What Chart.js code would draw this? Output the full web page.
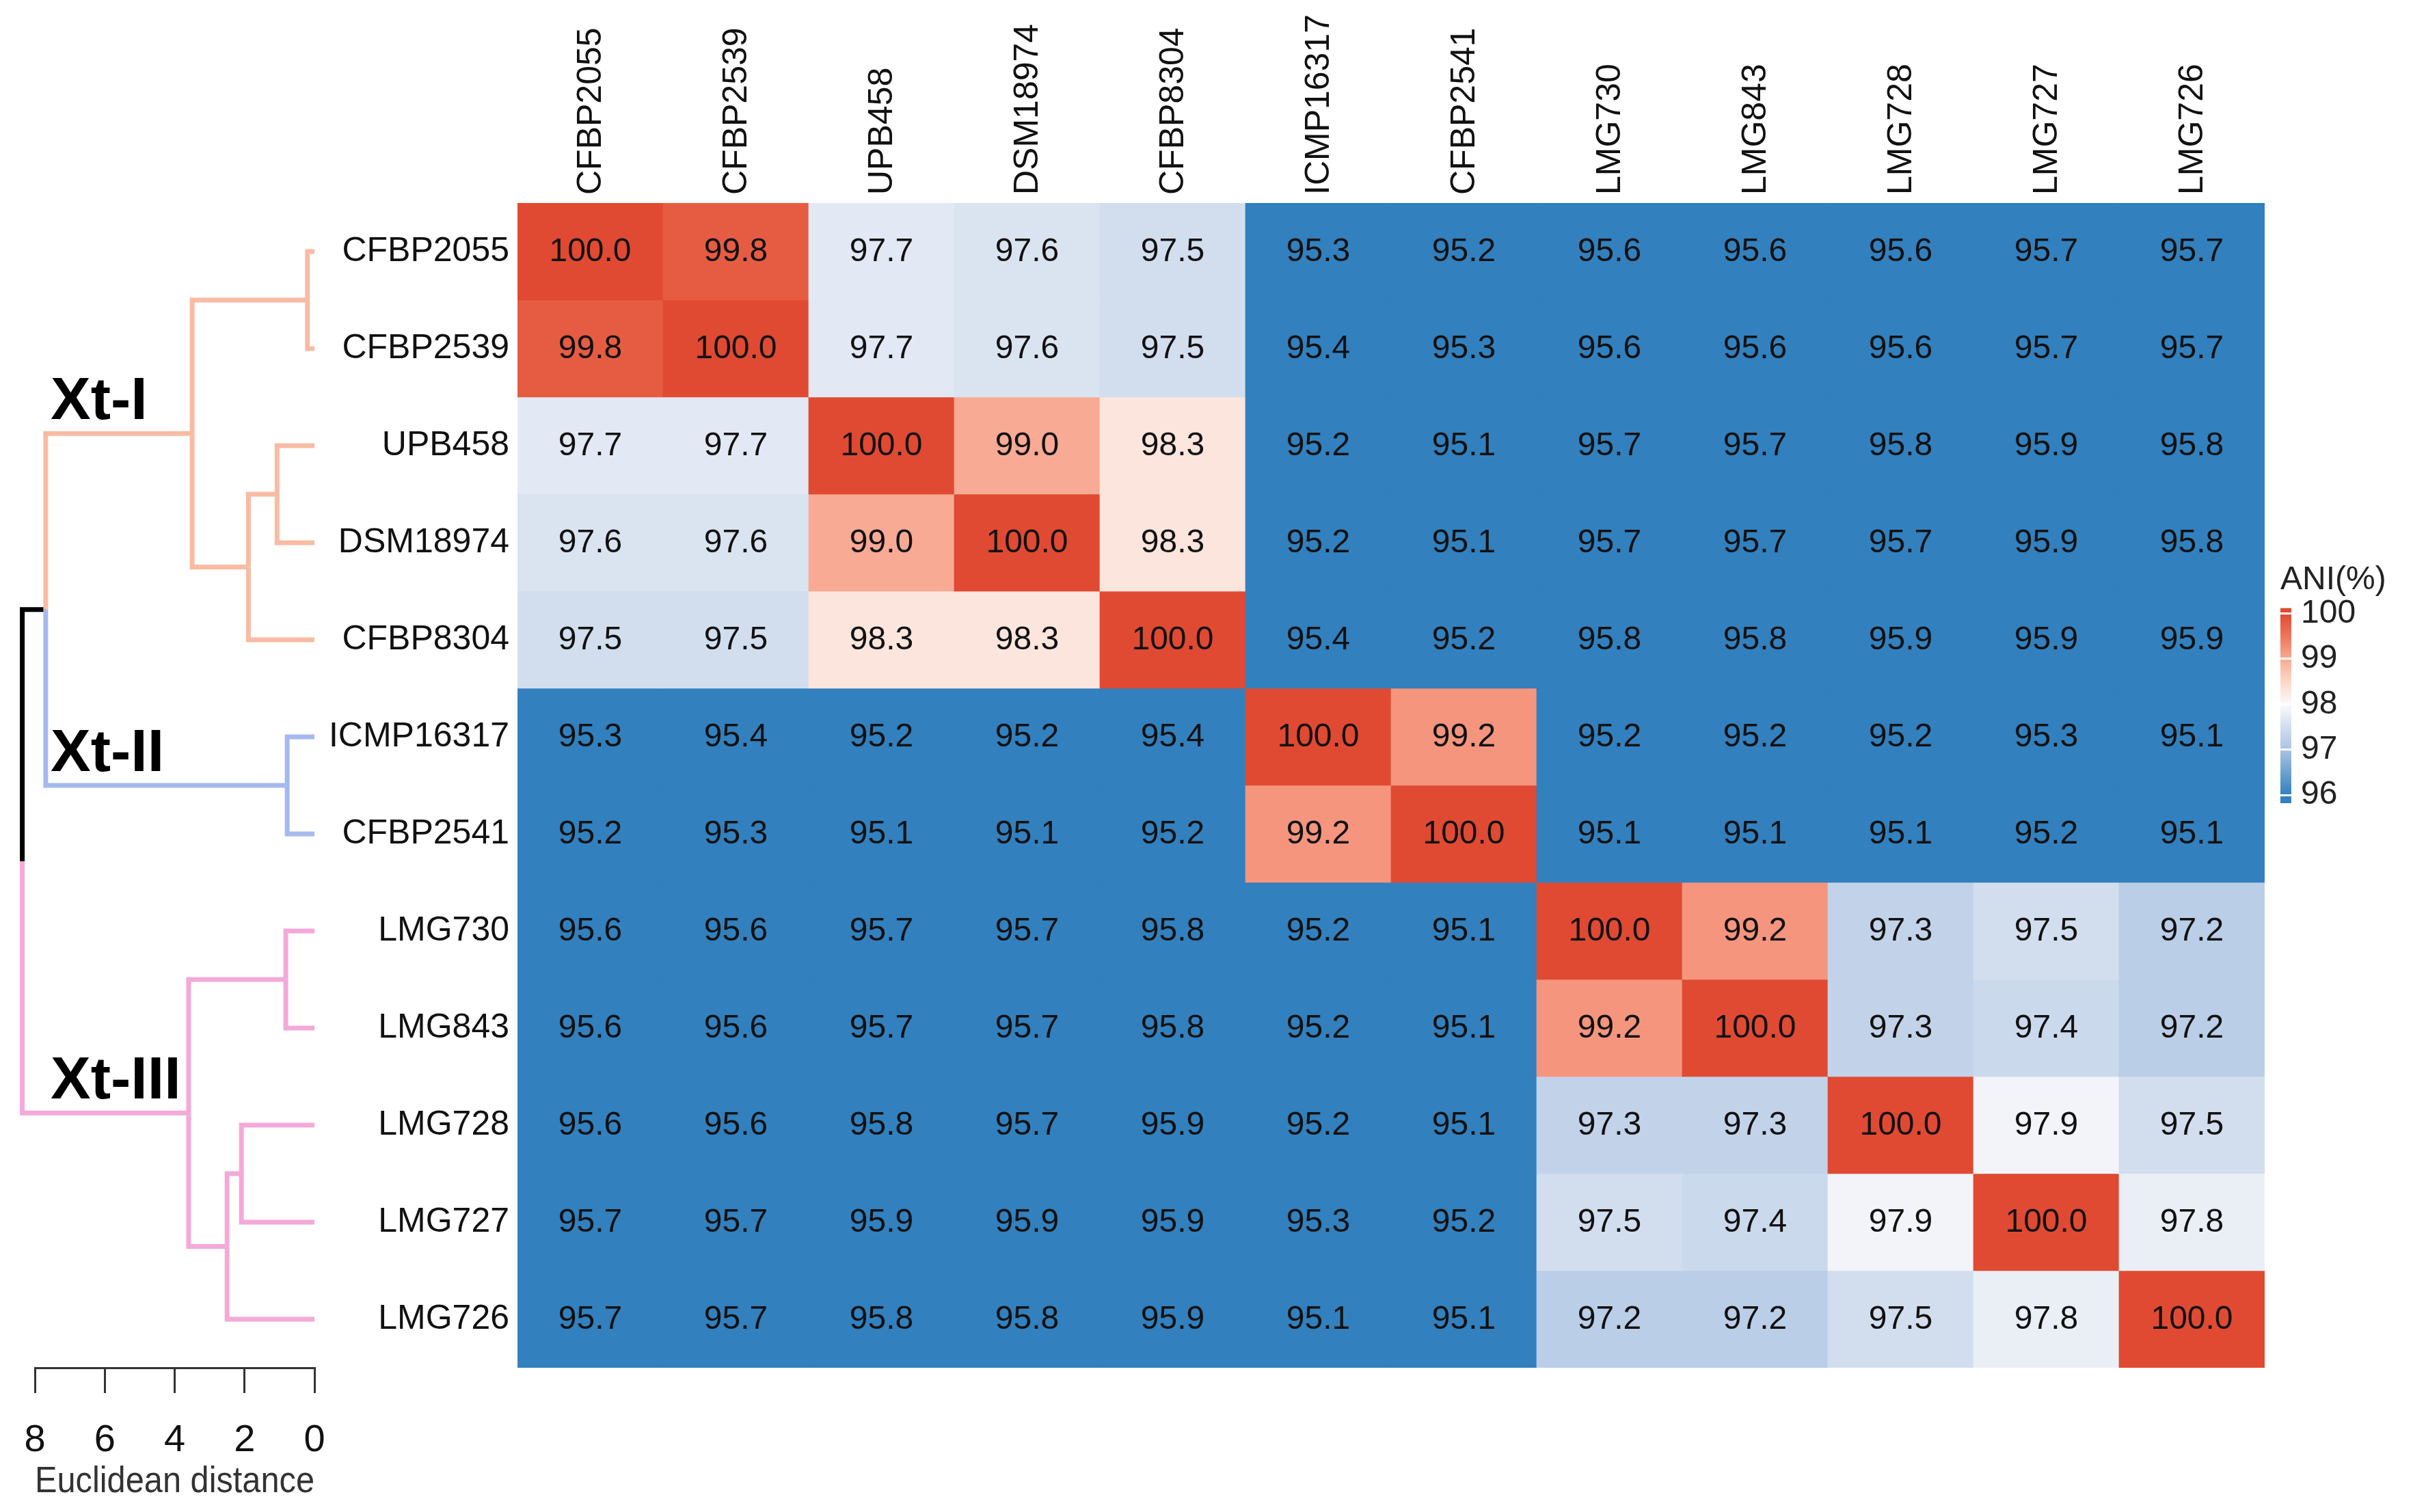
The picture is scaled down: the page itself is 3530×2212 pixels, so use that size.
<!DOCTYPE html>
<html lang="en">
<head>
<meta charset="UTF-8">
<title>ANI heatmap with dendrogram</title>
<script src="https://cdn.jsdelivr.net/npm/chart.js"></script>
<style>
  body { margin: 0; background: #fff; width: 3530px; height: 2212px; overflow: hidden; position: relative; }
  canvas { position: absolute; }
  #heatmap { left: 0; top: 0; }
  #dendro { left: 0; top: 0; }
  #colorbar { left: 3320px; top: 800px; }
</style>
</head>
<body>
<canvas id="heatmap" width="3530" height="2212"></canvas>
<canvas id="dendro" width="760" height="2212"></canvas>
<canvas id="colorbar" width="210" height="420"></canvas>
<script>
// strains, same order for rows and columns
const strains = ['CFBP2055', 'CFBP2539', 'UPB458', 'DSM18974', 'CFBP8304', 'ICMP16317',
                 'CFBP2541', 'LMG730', 'LMG843', 'LMG728', 'LMG727', 'LMG726'];

// ANI (%) values, one row per strain
const aniCFBP2055  = [100.0, 99.8, 97.7, 97.6, 97.5, 95.3, 95.2, 95.6, 95.6, 95.6, 95.7, 95.7];
const aniCFBP2539  = [99.8, 100.0, 97.7, 97.6, 97.5, 95.4, 95.3, 95.6, 95.6, 95.6, 95.7, 95.7];
const aniUPB458    = [97.7, 97.7, 100.0, 99.0, 98.3, 95.2, 95.1, 95.7, 95.7, 95.8, 95.9, 95.8];
const aniDSM18974  = [97.6, 97.6, 99.0, 100.0, 98.3, 95.2, 95.1, 95.7, 95.7, 95.7, 95.9, 95.8];
const aniCFBP8304  = [97.5, 97.5, 98.3, 98.3, 100.0, 95.4, 95.2, 95.8, 95.8, 95.9, 95.9, 95.9];
const aniICMP16317 = [95.3, 95.4, 95.2, 95.2, 95.4, 100.0, 99.2, 95.2, 95.2, 95.2, 95.3, 95.1];
const aniCFBP2541  = [95.2, 95.3, 95.1, 95.1, 95.2, 99.2, 100.0, 95.1, 95.1, 95.1, 95.2, 95.1];
const aniLMG730    = [95.6, 95.6, 95.7, 95.7, 95.8, 95.2, 95.1, 100.0, 99.2, 97.3, 97.5, 97.2];
const aniLMG843    = [95.6, 95.6, 95.7, 95.7, 95.8, 95.2, 95.1, 99.2, 100.0, 97.3, 97.4, 97.2];
const aniLMG728    = [95.6, 95.6, 95.8, 95.7, 95.9, 95.2, 95.1, 97.3, 97.3, 100.0, 97.9, 97.5];
const aniLMG727    = [95.7, 95.7, 95.9, 95.9, 95.9, 95.3, 95.2, 97.5, 97.4, 97.9, 100.0, 97.8];
const aniLMG726    = [95.7, 95.7, 95.8, 95.8, 95.9, 95.1, 95.1, 97.2, 97.2, 97.5, 97.8, 100.0];
const aniMatrix = [aniCFBP2055, aniCFBP2539, aniUPB458, aniDSM18974, aniCFBP8304, aniICMP16317,
                   aniCFBP2541, aniLMG730, aniLMG843, aniLMG728, aniLMG727, aniLMG726];

// hclust-style merges: negative = leaf (row number), positive = earlier merge
const mergeLeft   = [-1, -3, 2, 1, -6, 4, -8, -10, 8, 7, 6];
const mergeRight  = [-2, -4, -5, 3, -7, 5, -9, -11, -12, 9, 10];
const mergeHeight = [0.2, 1.07, 1.89, 3.5, 0.78, 7.69, 0.82, 2.09, 2.5, 3.6, 8.36];
const leafClade   = [0, 0, 0, 0, 0, 1, 1, 2, 2, 2, 2, 2];
const cladeNames  = ['Xt-I', 'Xt-II', 'Xt-III'];
const cladeNodes  = [4, 5, 10];
const distTicks   = [0, 2, 4, 6, 8];

// colour key
const legendTicks = [96, 97, 98, 99, 100];
const legendMin = 95.82, legendMax = 100.12;

const cladeColors = ['#f9bba3', '#a6b9ee', '#f3a9d9'];
const aniStops = [96.0, 97.0, 97.5, 98.0, 98.5, 99.0, 99.5, 100.0];
const aniStopColors = [[50, 128, 190], [170, 195, 226], [210, 222, 238], [250, 250, 252],
                       [252, 215, 200], [249, 170, 148], [238, 118, 92], [224, 74, 50]];

const FONT = "'Liberation Sans', Arial, sans-serif";
Chart.defaults.font.family = FONT;
Chart.defaults.color = '#111';

function aniColor(v) {
    const x = Math.max(aniStops[0], Math.min(aniStops[aniStops.length - 1], v));
    let i = 0;
    while (i < aniStops.length - 2 && x > aniStops[i + 1]) i++;
    const t = (x - aniStops[i]) / (aniStops[i + 1] - aniStops[i]);
    const a = aniStopColors[i], b = aniStopColors[i + 1];
    const c = a.map((ch, k) => Math.round(ch + (b[k] - ch) * t));
    return `rgb(${c[0]},${c[1]},${c[2]})`;
}

// ---------- heatmap ----------
const cellText = {
    id: 'cellText',
    afterDatasetsDraw(chart) {
        const ctx = chart.ctx;
        ctx.save();
        ctx.font = `48px ${FONT}`;
        ctx.fillStyle = '#111';
        ctx.textAlign = 'center';
        ctx.textBaseline = 'middle';
        chart.data.datasets.forEach((ds, r) => {
            chart.getDatasetMeta(r).data.forEach((bar, c) => {
                const p = bar.getProps(['x', 'y', 'base'], true);
                ctx.fillText(aniMatrix[r][c].toFixed(1), p.x, (p.y + p.base) / 2 + 1);
            });
        });
        ctx.restore();
    }
};

new Chart(document.getElementById('heatmap'), {
    type: 'bar',
    data: {
        labels: strains,
        datasets: aniMatrix.map((row, r) => ({
            data: strains.map(() => [r, r + 1]),
            backgroundColor: row.map(aniColor),
            borderWidth: 0,
            grouped: false,
            barPercentage: 1,
            categoryPercentage: 1
        }))
    },
    options: {
        responsive: false,
        devicePixelRatio: 1,
        animation: false,
        layout: { padding: { left: 427, top: 17, right: 217, bottom: 211 } },
        plugins: { legend: { display: false }, tooltip: { enabled: false } },
        scales: {
            x: {
                position: 'top',
                grid: { display: false, drawTicks: false },
                border: { display: false },
                ticks: { minRotation: 90, maxRotation: 90, autoSkip: false, padding: 12,
                         labelOffset: 62, font: { size: 50 }, color: '#111' },
                afterFit: s => { s.height = 280; s.paddingLeft = 0; s.paddingRight = 0; }
            },
            y: {
                min: 0, max: 12, reverse: true,
                grid: { display: false, drawTicks: false },
                border: { display: false },
                afterBuildTicks: s => { s.ticks = strains.map((_, i) => ({ value: i + 0.5 })); },
                ticks: { autoSkip: false, padding: 12, font: { size: 50 }, color: '#111',
                         callback: (v, i) => strains[i] },
                afterFit: s => { s.width = 330; s.paddingTop = 0; s.paddingBottom = 0; }
            }
        }
    },
    plugins: [cellText]
});

// ---------- row dendrogram ----------
function nodeY(ref) {
    if (ref < 0) return -ref - 1 + 0.5;
    return (nodeY(mergeLeft[ref - 1]) + nodeY(mergeRight[ref - 1])) / 2;
}
function nodeH(ref) {
    return ref < 0 ? 0 : mergeHeight[ref - 1];
}
function nodeClade(ref) {
    if (ref < 0) return leafClade[-ref - 1];
    const a = nodeClade(mergeLeft[ref - 1]), b = nodeClade(mergeRight[ref - 1]);
    return a === b ? a : -1;
}

const edges = [];
mergeHeight.forEach((h, m) => {
    const yP = nodeY(m + 1);
    [mergeLeft[m], mergeRight[m]].forEach(ch => {
        const k = nodeClade(ch);
        edges.push({
            data: [{ x: h, y: yP }, { x: h, y: nodeY(ch) }, { x: nodeH(ch), y: nodeY(ch) }],
            borderColor: k >= 0 ? cladeColors[k] : '#000',
            borderWidth: 7,
            showLine: true,
            pointRadius: 0,
            fill: false,
            tension: 0,
            clip: false
        });
    });
});

const cladeText = {
    id: 'cladeText',
    afterDatasetsDraw(chart) {
        const ctx = chart.ctx;
        const y = chart.scales.y;
        ctx.save();
        ctx.font = `bold 88px ${FONT}`;
        ctx.fillStyle = '#000';
        ctx.textAlign = 'left';
        ctx.textBaseline = 'alphabetic';
        cladeNames.forEach((name, i) => {
            ctx.fillText(name, chart.chartArea.left + 23, y.getPixelForValue(nodeY(cladeNodes[i])) - 21);
        });
        ctx.restore();
    }
};

new Chart(document.getElementById('dendro'), {
    type: 'scatter',
    data: { datasets: edges },
    options: {
        responsive: false,
        devicePixelRatio: 1,
        animation: false,
        layout: { padding: { left: 51, right: 300, top: 297, bottom: 11 } },
        plugins: { legend: { display: false }, tooltip: { enabled: false } },
        scales: {
            x: {
                type: 'linear', min: 0, max: 8, reverse: true,
                afterBuildTicks: s => { s.ticks = distTicks.map(v => ({ value: v })); },
                ticks: { padding: 36, font: { size: 56 }, color: '#111' },
                grid: { drawOnChartArea: false, drawTicks: true, tickLength: 37, color: '#333', lineWidth: 3 },
                border: { display: true, color: '#333', width: 3 },
                title: { display: true, text: 'Euclidean distance', font: { size: 54 }, color: '#333', padding: 0 },
                afterFit: s => { s.height = 200; s.paddingLeft = 0; s.paddingRight = 0; }
            },
            y: { type: 'linear', min: 0, max: 12, reverse: true, display: false }
        }
    },
    plugins: [cladeText]
});

// ---------- colour key ----------
function legendGradient(context) {
    const chart = context.chart;
    if (!chart.chartArea) return aniColor(98);
    const y = chart.scales.y;
    const y0 = y.getPixelForValue(legendMin), y1 = y.getPixelForValue(legendMax);
    const g = chart.ctx.createLinearGradient(0, y0, 0, y1);
    g.addColorStop(0, aniColor(legendMin));
    aniStops.forEach(v => g.addColorStop((v - legendMin) / (legendMax - legendMin), aniColor(v)));
    g.addColorStop(1, aniColor(legendMax));
    return g;
}

new Chart(document.getElementById('colorbar'), {
    type: 'bar',
    data: {
        labels: [''],
        datasets: [{
            data: [[legendMin, legendMax]],
            backgroundColor: legendGradient,
            borderWidth: 0,
            barPercentage: 1,
            categoryPercentage: 1
        }]
    },
    options: {
        responsive: false,
        devicePixelRatio: 1,
        animation: false,
        layout: { padding: { left: 16, right: 38, top: 20, bottom: 45 } },
        plugins: {
            legend: { display: false },
            tooltip: { enabled: false },
            title: { display: true, text: 'ANI(%)', align: 'start', color: '#222',
                     font: { size: 48, weight: 'normal' }, padding: { top: 0, bottom: 12 } }
        },
        scales: {
            x: { display: false },
            y: {
                position: 'right', min: legendMin, max: legendMax,
                afterBuildTicks: s => { s.ticks = legendTicks.map(v => ({ value: v })); },
                ticks: { padding: 14, font: { size: 48 }, color: '#222' },
                grid: { color: '#fff', lineWidth: 3, drawTicks: false, z: 1 },
                border: { display: false },
                afterFit: s => { s.width = 140; }
            }
        }
    }
});
</script>
</body>
</html>
